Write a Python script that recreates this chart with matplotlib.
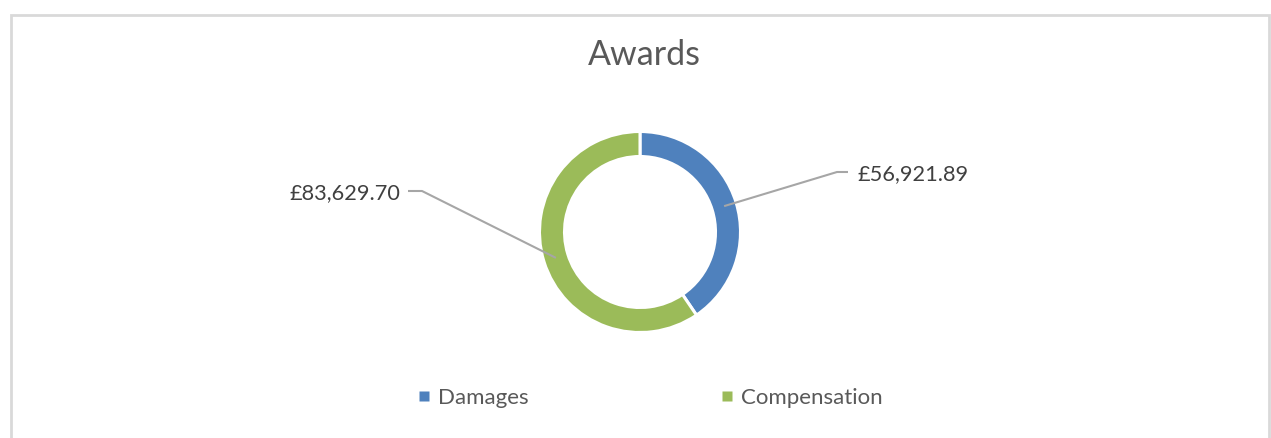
import numpy as np
import matplotlib
matplotlib.use("Agg")
import matplotlib.pyplot as plt
from matplotlib.patches import Rectangle
from matplotlib.lines import Line2D

plt.rcParams['font.family'] = ['Lato', 'DejaVu Sans']

# data
categories = ['Damages', 'Compensation']
values = [56921.89, 83629.70]
colors = ['#4F81BD', '#9BBB59']
title = 'Awards'

W, H = 1271, 438
fig = plt.figure(figsize=(W / 100, H / 100), dpi=100)
ax = fig.add_axes([0, 0, 1, 1])

cx, cy = 640, H - 232
R, ring = 100.5, 25

# white edges eat ~1.5px off each side of the ring
wedges, _ = ax.pie(values, colors=colors, startangle=90, counterclock=False,
                   center=(cx, cy), radius=R, frame=True,
                   wedgeprops=dict(width=ring, edgecolor='white', linewidth=2.2))
ax.set_xlim(0, W)
ax.set_ylim(0, H)
ax.set_aspect('equal')
ax.axis('off')

# data labels with leader lines
label_layout = [
    # (elbow dx, elbow dy, horizontal run, text gap)
    (197, 60, 11, 10),
    (-218, 41, -14, -8),
]
for w, v, (ex, ey, run, gap) in zip(wedges, values, label_layout):
    mid = np.deg2rad((w.theta1 + w.theta2) / 2)
    rm = R - ring / 2
    sx, sy = cx + rm * np.cos(mid), cy + rm * np.sin(mid)
    ex_, ey_ = cx + ex, cy + ey
    ax.plot([sx, ex_, ex_ + run], [sy, ey_, ey_], color='#A6A6A6', lw=1.5,
            solid_capstyle='butt')
    ha = 'left' if run > 0 else 'right'
    ax.text(ex_ + run + gap, ey_ - 2, '£{:,.2f}'.format(v), ha=ha, va='center',
            fontsize=15.7, color='#404040')

fig.text(644 / W, 1 - 55 / H, title, ha='center', va='center',
         fontsize=24.5, color='#595959')

handles = [Line2D([], [], ls='none', marker='s', markersize=6.6,
                  markerfacecolor=c, markeredgecolor='none') for c in colors]
fig.legend(handles, categories, loc='center', bbox_to_anchor=(650 / W, 1 - 398 / H),
           ncol=2, frameon=False, fontsize=16, labelcolor='#595959',
           handlelength=0.6, handletextpad=0.35, columnspacing=8.6)

fig.patches.append(Rectangle((10.5 / W, -0.1), (1269 - 10.5) / W, 1.1 - 14.5 / H,
                             transform=fig.transFigure, fill=False,
                             edgecolor='#D9D9D9', linewidth=2))

fig.savefig('out.png', dpi=100)
